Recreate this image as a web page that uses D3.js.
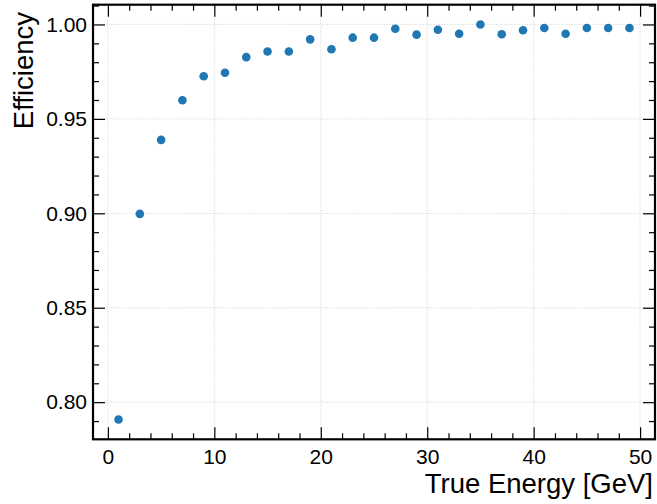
<!DOCTYPE html>
<html>
<head>
<meta charset="utf-8">
<script src="https://cdn.jsdelivr.net/npm/d3@7"></script>
<style>
  html, body { margin: 0; padding: 0; background: #fff; }
  svg { display: block; }
  text { font-family: "Liberation Sans", Arial, Helvetica, sans-serif; fill: #000; }
</style>
</head>
<body>
<svg id="chart" width="657" height="504"></svg>
<script>
// True energy bin centres [GeV] and reconstruction efficiency per bin
const energy = [1, 3, 5, 7, 9, 11, 13, 15, 17, 19, 21, 23, 25,
                27, 29, 31, 33, 35, 37, 39, 41, 43, 45, 47, 49];
const efficiency = [0.7908, 0.8997, 0.9389, 0.9599, 0.9726, 0.9744, 0.9827, 0.9857, 0.9857,
                    0.9921, 0.9869, 0.9930, 0.9930, 0.9977, 0.9946, 0.9972, 0.9951, 1.0000,
                    0.9948, 0.9969, 0.9981, 0.9951, 0.9981, 0.9981, 0.9981];

const xMajor = [0, 10, 20, 30, 40, 50];
const yMajor = [0.80, 0.85, 0.90, 0.95, 1.00];
const xLabel = "True Energy [GeV]";
const yLabel = "Efficiency";

(function draw() {
  const svg = d3.select("#chart");
  const pLeft = 93, pRight = 655, pTop = 4.7, pBottom = 439.3;

  // Matplotlib-style 5% padding around the data range
  const xPad = (d3.max(energy) - d3.min(energy)) * 0.05;
  const yPad = (d3.max(efficiency) - d3.min(efficiency)) * 0.05;
  const x = d3.scaleLinear()
    .domain([d3.min(energy) - xPad, d3.max(energy) + xPad])
    .range([pLeft, pRight]);
  const y = d3.scaleLinear()
    .domain([d3.min(efficiency) - yPad, d3.max(efficiency) + yPad])
    .range([pBottom, pTop]);

  const xMinor = d3.range(0, 52, 2).filter(v => !xMajor.includes(v));
  const yMinor = d3.range(78, 102, 1).map(v => v / 100)
    .filter(v => v >= y.domain()[0] && v <= y.domain()[1] && !yMajor.some(m => Math.abs(m - v) < 1e-9));

  // Dotted grid at major ticks
  const grid = svg.append("g").attr("stroke", "#cfcfcf").attr("stroke-width", 0.9)
    .attr("stroke-dasharray", "1,1.6");
  grid.selectAll("line.gx").data(xMajor).join("line").attr("class", "gx")
    .attr("x1", d => x(d)).attr("x2", d => x(d)).attr("y1", pTop).attr("y2", pBottom);
  grid.selectAll("line.gy").data(yMajor).join("line").attr("class", "gy")
    .attr("y1", d => y(d)).attr("y2", d => y(d)).attr("x1", pLeft).attr("x2", pRight);

  // Data points
  svg.append("g").selectAll("circle").data(energy).join("circle")
    .attr("cx", d => x(d))
    .attr("cy", (d, i) => y(efficiency[i]))
    .attr("r", 4.3)
    .attr("fill", "#1f77b4");

  // Axes with inward-pointing ticks on all four sides
  function styleAxis(g) {
    g.select(".domain").remove();
    g.selectAll(".tick line").attr("stroke", "#000").attr("stroke-width", 1.2);
    g.selectAll(".tick text").style("font-size", "21px").attr("fill", "#000");
  }
  const fmt2 = d3.format(".2f");

  svg.append("g").attr("transform", `translate(0,${pBottom})`)
    .call(d3.axisBottom(x).tickValues(xMajor).tickSize(-12).tickPadding(9.5).tickFormat(d3.format("d")))
    .call(styleAxis);
  svg.append("g").attr("transform", `translate(0,${pBottom})`)
    .call(d3.axisBottom(x).tickValues(xMinor).tickSize(-6).tickFormat(""))
    .call(styleAxis);
  svg.append("g").attr("transform", `translate(0,${pTop})`)
    .call(d3.axisTop(x).tickValues(xMajor).tickSize(-12).tickFormat(""))
    .call(styleAxis);
  svg.append("g").attr("transform", `translate(0,${pTop})`)
    .call(d3.axisTop(x).tickValues(xMinor).tickSize(-6).tickFormat(""))
    .call(styleAxis);

  svg.append("g").attr("transform", `translate(${pLeft},0)`)
    .call(d3.axisLeft(y).tickValues(yMajor).tickSize(-12).tickPadding(6).tickFormat(fmt2))
    .call(styleAxis);
  svg.append("g").attr("transform", `translate(${pLeft},0)`)
    .call(d3.axisLeft(y).tickValues(yMinor).tickSize(-6).tickFormat(""))
    .call(styleAxis);
  svg.append("g").attr("transform", `translate(${pRight},0)`)
    .call(d3.axisRight(y).tickValues(yMajor).tickSize(-12).tickFormat(""))
    .call(styleAxis);
  svg.append("g").attr("transform", `translate(${pRight},0)`)
    .call(d3.axisRight(y).tickValues(yMinor).tickSize(-6).tickFormat(""))
    .call(styleAxis);

  // Frame
  svg.append("rect")
    .attr("x", pLeft).attr("y", pTop)
    .attr("width", pRight - pLeft).attr("height", pBottom - pTop)
    .attr("fill", "none").attr("stroke", "#000").attr("stroke-width", 2.2);

  // Axis titles, aligned to the far ends of the axes
  svg.append("text")
    .attr("x", 653).attr("y", 493)
    .attr("text-anchor", "end")
    .style("font-size", "27.5px")
    .text(xLabel);
  svg.append("text")
    .attr("transform", "translate(33,12) rotate(-90)")
    .attr("text-anchor", "end")
    .style("font-size", "27.5px")
    .text(yLabel);
})();
</script>
</body>
</html>
